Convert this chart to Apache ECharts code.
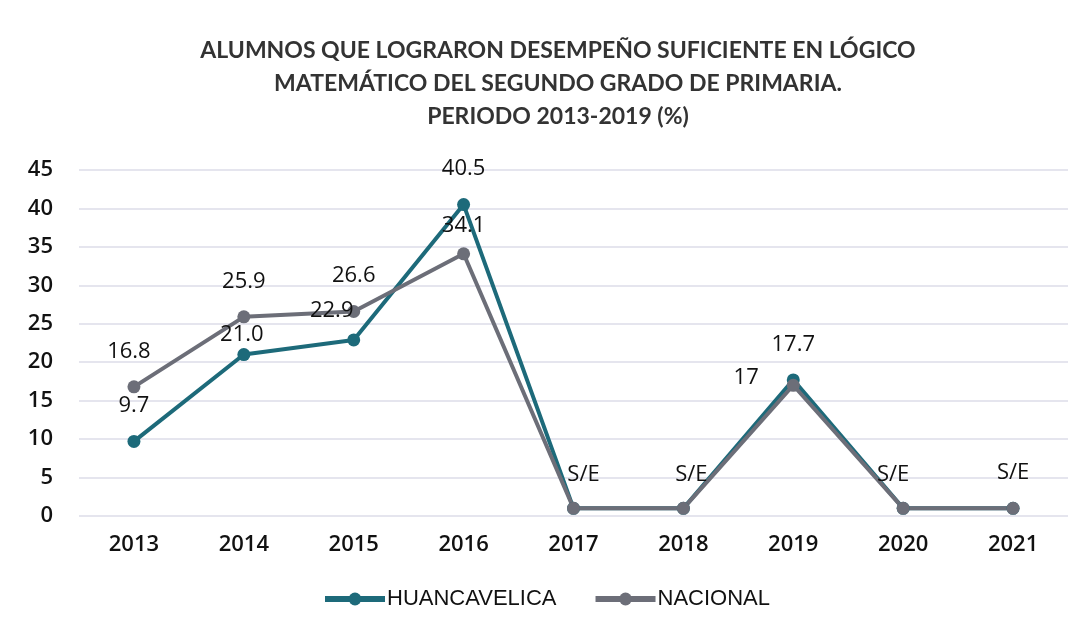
<!DOCTYPE html>
<html>
<head>
<meta charset="utf-8">
<title>Alumnos lógico matemático</title>
<script src="https://cdn.jsdelivr.net/npm/echarts@6/dist/echarts.min.js"></script>
<style>
	html, body { margin: 0; padding: 0; background: #fff; }
	#chart { width: 1092px; height: 637px; }
</style>
</head>
<body>
<div id="chart"></div>
<script>
var years = ['2013', '2014', '2015', '2016', '2017', '2018', '2019', '2020', '2021'];
// S/E (sin evaluación) years are drawn near the floor, as in the original
var huancavelica = [9.7, 21.0, 22.9, 40.5, 1, 1, 17.7, 1, 1];
var nacional = [16.8, 25.9, 26.6, 34.1, 1, 1, 17, 1, 1];
var huanLabels = ['9.7', '21.0', '22.9', '40.5', '', '', '17.7', '', ''];
var nacLabels = ['16.8', '25.9', '26.6', '34.1', 'S/E', 'S/E', '17', 'S/E', 'S/E'];

var labelFont = '"Open Sans", Lato, sans-serif';

function buildData(values, labels, special) {
	return values.map(function (v, i) {
		var item = {value: v, label: {formatter: labels[i]}};
		if (special[i]) {
			item.label = Object.assign(item.label, special[i]);
		}
		return item;
	});
}

var huanData = buildData(huancavelica, huanLabels, {
	1: {distance: 2, offset: [-2, 0]},
	2: {offset: [-22, 6]}
});
var nacData = buildData(nacional, nacLabels, {
	0: {offset: [-5, 0]},
	3: {distance: 11},
	4: {offset: [10, 2]},
	5: {offset: [8, 2]},
	6: {position: 'left', distance: 28, offset: [0, -8]},
	7: {offset: [-10, 2]}
});

var myChart = echarts.init(document.getElementById('chart'));
var option = {
	backgroundColor: '#ffffff',
	title: {
		text: 'ALUMNOS QUE LOGRARON DESEMPEÑO SUFICIENTE EN LÓGICO\nMATEMÁTICO DEL SEGUNDO GRADO DE PRIMARIA.\nPERIODO 2013-2019 (%)',
		left: 553,
		textAlign: 'center',
		top: 29,
		textStyle: {
			fontFamily: 'Lato, sans-serif',
			fontSize: 23,
			fontWeight: 'bold',
			color: '#333333',
			lineHeight: 33
		}
	},
	legend: {
		bottom: 22,
		left: 'center',
		itemWidth: 60,
		itemHeight: 16,
		itemGap: 36,
		lineStyle: {width: 6},
		textStyle: {
			fontFamily: 'Liberation Sans, Arial, sans-serif',
			fontSize: 22,
			color: '#111',
			padding: [0, 0, 0, -3]
		},
		data: ['HUANCAVELICA', 'NACIONAL']
	},
	grid: {
		left: 79,
		right: 24,
		top: 170,
		bottom: 121
	},
	xAxis: {
		type: 'category',
		data: years,
		boundaryGap: true,
		axisLine: {show: false},
		axisTick: {show: false},
		axisLabel: {
			margin: 18,
			fontFamily: labelFont,
			fontWeight: 600,
			fontSize: 22,
			color: '#111'
		}
	},
	yAxis: {
		type: 'value',
		min: 0,
		max: 45,
		interval: 5,
		axisLine: {show: false},
		axisTick: {show: false},
		axisLabel: {
			margin: 26,
			fontFamily: labelFont,
			fontWeight: 600,
			fontSize: 22,
			color: '#111'
		},
		splitLine: {
			lineStyle: {color: '#dcdce8', width: 1.5}
		}
	},
	series: [
		{
			name: 'HUANCAVELICA',
			type: 'line',
			data: huanData,
			symbol: 'circle',
			symbolSize: 13,
			color: '#1d6a7a',
			lineStyle: {width: 4, color: '#1d6a7a'},
			itemStyle: {color: '#1d6a7a'},
			label: {
				show: true,
				position: 'top',
				distance: 18,
				fontFamily: labelFont,
				fontSize: 22,
				color: '#111'
			}
		},
		{
			name: 'NACIONAL',
			type: 'line',
			data: nacData,
			symbol: 'circle',
			symbolSize: 13,
			color: '#6c6e78',
			lineStyle: {width: 4, color: '#6c6e78'},
			itemStyle: {color: '#6c6e78'},
			label: {
				show: true,
				position: 'top',
				distance: 18,
				fontFamily: labelFont,
				fontSize: 22,
				color: '#111'
			}
		}
	]
};
myChart.setOption(option);
</script>
</body>
</html>
